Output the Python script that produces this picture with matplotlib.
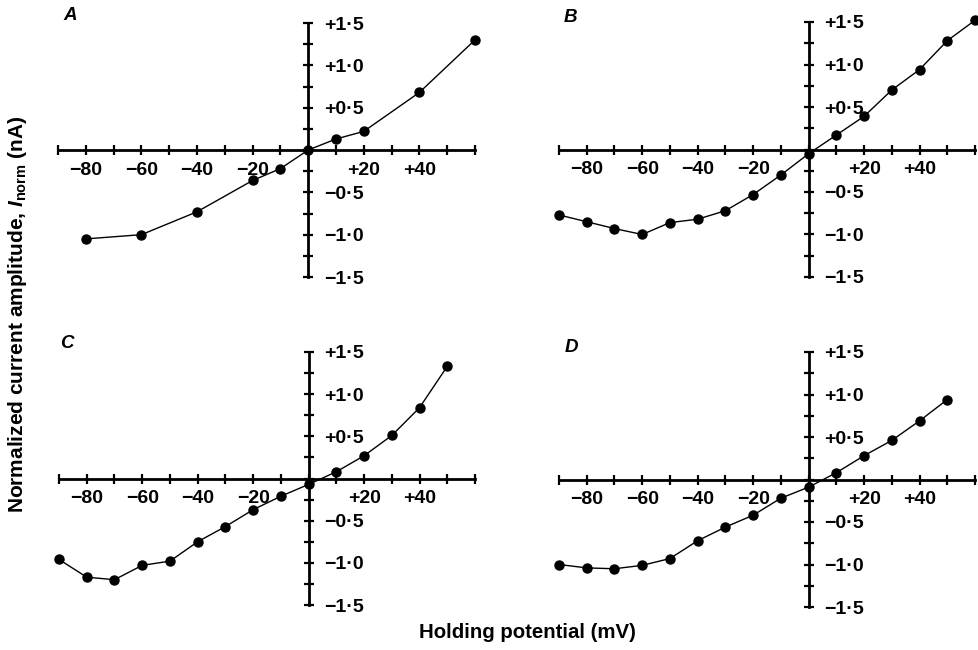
import matplotlib
matplotlib.use("Agg")
import matplotlib.pyplot as plt

plt.rcParams["font.family"] = ["Liberation Sans", "DejaVu Sans"]
plt.rcParams["font.weight"] = "bold"
plt.rcParams["mathtext.fontset"] = "custom"
plt.rcParams["mathtext.rm"] = "Liberation Sans:bold"
plt.rcParams["mathtext.it"] = "Liberation Sans:italic:bold"

# Holding potentials (mV) and normalized currents for each panel
volts_a = [-80, -60, -40, -20, -10, 0, 10, 20, 40, 60]
amps_a = [-1.05, -1.00, -0.73, -0.36, -0.22, 0.0, 0.13, 0.22, 0.68, 1.30]

volts_b = [-90, -80, -70, -60, -50, -40, -30, -20, -10, 0, 10, 20, 30, 40, 50, 60]
amps_b = [-0.77, -0.85, -0.93, -1.00, -0.86, -0.82, -0.72, -0.53, -0.30, -0.05,
          0.17, 0.39, 0.70, 0.94, 1.28, 1.52]

volts_c = [-90, -80, -70, -60, -50, -40, -30, -20, -10, 0, 10, 20, 30, 40, 50]
amps_c = [-0.96, -1.17, -1.20, -1.03, -0.98, -0.75, -0.57, -0.37, -0.21, -0.07,
          0.08, 0.27, 0.51, 0.84, 1.33]

volts_d = [-90, -80, -70, -60, -50, -40, -30, -20, -10, 0, 10, 20, 30, 40, 50]
amps_d = [-1.00, -1.04, -1.05, -1.01, -0.93, -0.72, -0.56, -0.42, -0.22, -0.09,
          0.08, 0.28, 0.46, 0.69, 0.94]

panel_letters = ["A", "B", "C", "D"]

x_ticks = list(range(-90, 61, 10))
x_labels = {-80: "\u221280", -60: "\u221260", -40: "\u221240", -20: "\u221220",
            20: "+20", 40: "+40"}
y_ticks = [i * 0.25 - 1.5 for i in range(13)]
y_labels = {1.5: "+1\u00b75", 1.0: "+1\u00b70", 0.5: "+0\u00b75",
            -0.5: "\u22120\u00b75", -1.0: "\u22121\u00b70", -1.5: "\u22121\u00b75"}

W, H = 979, 650
fig = plt.figure(figsize=(W / 100, H / 100), dpi=100)

# axes boxes in pixels: (left, right, top, bottom)
boxes = [(58, 475, 23, 277), (559, 975, 22, 277),
         (59, 475, 352, 605), (559, 975, 352, 607)]
series = [(volts_a, amps_a), (volts_b, amps_b), (volts_c, amps_c), (volts_d, amps_d)]
letter_pos = [(63, 15), (564, 18), (60, 343), (565, 347)]

for (l, r, t, b), (vx, iy), letter, (lx, ly) in zip(boxes, series, panel_letters, letter_pos):
    ax = fig.add_axes([l / W, 1 - b / H, (r - l) / W, (b - t) / H])
    ax.set_xlim(-90, 60)
    ax.set_ylim(-1.5, 1.5)
    ax.patch.set_visible(False)
    for s in ("top", "left"):
        ax.spines[s].set_visible(False)
    ax.spines["bottom"].set_position(("data", 0))
    ax.spines["right"].set_position(("data", 0))
    ax.spines["bottom"].set_linewidth(2.0)
    ax.spines["right"].set_linewidth(2.0)
    ax.yaxis.set_ticks_position("right")
    ax.xaxis.set_ticks_position("bottom")
    ax.set_xticks(x_ticks, [x_labels.get(v, "") for v in x_ticks])
    ax.set_yticks(y_ticks, [y_labels.get(round(v, 2), "") for v in y_ticks])
    ax.tick_params(axis="both", direction="inout", length=7, width=1.6,
                   labelsize=14, colors="black")
    ax.tick_params(axis="x", pad=5)
    ax.tick_params(axis="y", pad=8)
    for lab in ax.get_xticklabels() + ax.get_yticklabels():
        lab.set_fontweight("bold")
    ax.plot(vx, iy, color="black", lw=1.0, marker="o", ms=6.5,
            mfc="black", mec="black", clip_on=False, zorder=5)
    fig.text(lx / W, 1 - ly / H, letter, fontsize=13.5, fontweight="bold",
             fontstyle="italic", ha="left", va="center")

fig.text(18 / W, 1 - 314 / H, r"Normalized current amplitude, $I_{\rm norm}$ (nA)",
         rotation=90, ha="center", va="center", fontsize=15, fontweight="bold")
fig.text(527 / W, 1 - 633 / H, "Holding potential (mV)",
         ha="center", va="center", fontsize=14.7, fontweight="bold")

fig.savefig("out.png", dpi=100, facecolor="white")
